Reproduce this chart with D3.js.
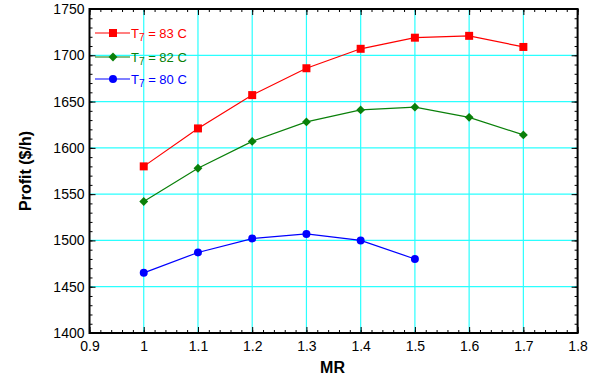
<!DOCTYPE html>
<html>
<head>
<meta charset="utf-8">
<script src="https://cdn.jsdelivr.net/npm/d3@7"></script>
<style>
  body { margin: 0; background: #fff; }
  svg { display: block; font-family: "Liberation Sans", Arial, sans-serif; }
</style>
</head>
<body>
<div id="chart"></div>
<script>
// values
const mr = [1.0, 1.1, 1.2, 1.3, 1.4, 1.5, 1.6, 1.7];
const profit83 = [1580, 1621, 1657, 1686, 1707, 1719, 1721, 1709];
const profit82 = [1542, 1578, 1607, 1628, 1641, 1644, 1633, 1614];
const profit80 = [1465, 1487, 1502, 1507, 1500, 1480];
const seriesNames = ['83 C', '82 C', '80 C'];
const xTicks = [0.9, 1, 1.1, 1.2, 1.3, 1.4, 1.5, 1.6, 1.7, 1.8];
const yTicks = [1400, 1450, 1500, 1550, 1600, 1650, 1700, 1750];

const svgWidth = 595, svgHeight = 379;
const margin = { top: 9, right: 17.4, bottom: 46, left: 89.5 };
const width = svgWidth - margin.left - margin.right;
const height = svgHeight - margin.top - margin.bottom;

const svg = d3.select('#chart').append('svg')
  .attr('width', svgWidth)
  .attr('height', svgHeight);
const g = svg.append('g')
  .attr('transform', `translate(${margin.left},${margin.top})`);

const x = d3.scaleLinear().domain([0.9, 1.8]).range([0, width]);
const y = d3.scaleLinear().domain([1400, 1750]).range([height, 0]);

// cyan grid
g.append('g').selectAll('line').data(xTicks.slice(1, -1)).join('line')
  .attr('x1', d => x(d)).attr('x2', d => x(d))
  .attr('y1', 0).attr('y2', height)
  .attr('stroke', '#2affff').attr('stroke-width', 1.2);
g.append('g').selectAll('line').data(yTicks.slice(1, -1)).join('line')
  .attr('y1', d => y(d)).attr('y2', d => y(d))
  .attr('x1', 0).attr('x2', width)
  .attr('stroke', '#2affff').attr('stroke-width', 1.2);

// minor ticks (inward)
const xMinor = d3.range(0, 46).map(i => 0.9 + i * 0.02);
const yMinor = d3.range(0, 36).map(i => 1400 + i * 10);
function minor(axis, tr) {
  const a = g.append('g').attr('transform', tr).call(axis.tickSizeInner(-3).tickSizeOuter(0).tickFormat(''));
  a.select('.domain').remove();
  a.selectAll('line').attr('stroke', '#000');
}
minor(d3.axisBottom(x).tickValues(xMinor), `translate(0,${height})`);
minor(d3.axisTop(x).tickValues(xMinor), 'translate(0,0)');
minor(d3.axisLeft(y).tickValues(yMinor), 'translate(0,0)');
minor(d3.axisRight(y).tickValues(yMinor), `translate(${width},0)`);

// major axes
const xAxis = g.append('g')
  .attr('transform', `translate(0,${height})`)
  .call(d3.axisBottom(x).tickValues(xTicks).tickFormat(d3.format('')).tickSizeInner(-6).tickSizeOuter(0).tickPadding(8));
const yAxis = g.append('g')
  .call(d3.axisLeft(y).tickValues(yTicks).tickFormat(d3.format('d')).tickSizeInner(-6).tickSizeOuter(0).tickPadding(5));
g.append('g').attr('transform', `translate(${width},0)`)
  .call(d3.axisRight(y).tickValues(yTicks).tickSizeInner(-6).tickSizeOuter(0).tickFormat(''))
  .select('.domain').remove();
g.append('g')
  .call(d3.axisTop(x).tickValues(xTicks).tickSizeInner(-6).tickSizeOuter(0).tickFormat(''))
  .select('.domain').remove();
[xAxis, yAxis].forEach(a => {
  a.select('.domain').remove();
  a.selectAll('text').attr('font-size', 14).attr('fill', '#000')
    .attr('font-family', '"Liberation Sans", Arial, sans-serif');
});
g.selectAll('.tick line').attr('stroke', '#000');

// frame
g.append('rect')
  .attr('width', width).attr('height', height)
  .attr('fill', 'none').attr('stroke', '#000').attr('stroke-width', 2);

// series
const series = [
  { name: seriesNames[0], values: profit83, color: '#ff0000', shape: d3.symbolSquare, size: 64 },
  { name: seriesNames[1], values: profit82, color: '#0a800a', shape: d3.symbolDiamond2, size: 50 },
  { name: seriesNames[2], values: profit80, color: '#0000ff', shape: d3.symbolCircle, size: 50 }
];

const line = d3.line().x(d => x(d[0])).y(d => y(d[1]));

series.forEach(s => {
  const pts = s.values.map((v, i) => [mr[i], v]);
  g.append('path').datum(pts)
    .attr('d', line).attr('fill', 'none')
    .attr('stroke', s.color).attr('stroke-width', 1.2);
  g.selectAll(null).data(pts).join('path')
    .attr('transform', d => `translate(${x(d[0])},${y(d[1])})`)
    .attr('d', d3.symbol().type(s.shape).size(s.size))
    .attr('fill', s.color);
});

// legend
const legendY = [33, 57, 79];
series.forEach((s, i) => {
  const lg = svg.append('g').attr('transform', `translate(95,${legendY[i]})`);
  lg.append('line').attr('x1', 0).attr('x2', 35).attr('y1', 0).attr('y2', 0)
    .attr('stroke', s.color).attr('stroke-width', 1.2);
  lg.append('path').attr('transform', 'translate(18,0)')
    .attr('d', d3.symbol().type(s.shape).size(s.size)).attr('fill', s.color);
  const t = lg.append('text').attr('x', 36).attr('y', 4.5)
    .attr('font-size', 13).attr('fill', s.color);
  t.append('tspan').text('T');
  t.append('tspan').attr('font-size', 10).attr('dy', 3).text('7');
  t.append('tspan').attr('dy', -3).text(' = ' + s.name);
});

// axis titles
svg.append('text')
  .attr('x', margin.left + width / 2 - 1).attr('y', 373)
  .attr('text-anchor', 'middle')
  .attr('font-size', 16).attr('font-weight', 'bold')
  .text('MR');
svg.append('text')
  .attr('transform', `translate(31,${margin.top + height / 2}) rotate(-90)`)
  .attr('text-anchor', 'middle')
  .attr('font-size', 16).attr('font-weight', 'bold')
  .text('Profit ($/h)');
</script>
</body>
</html>
